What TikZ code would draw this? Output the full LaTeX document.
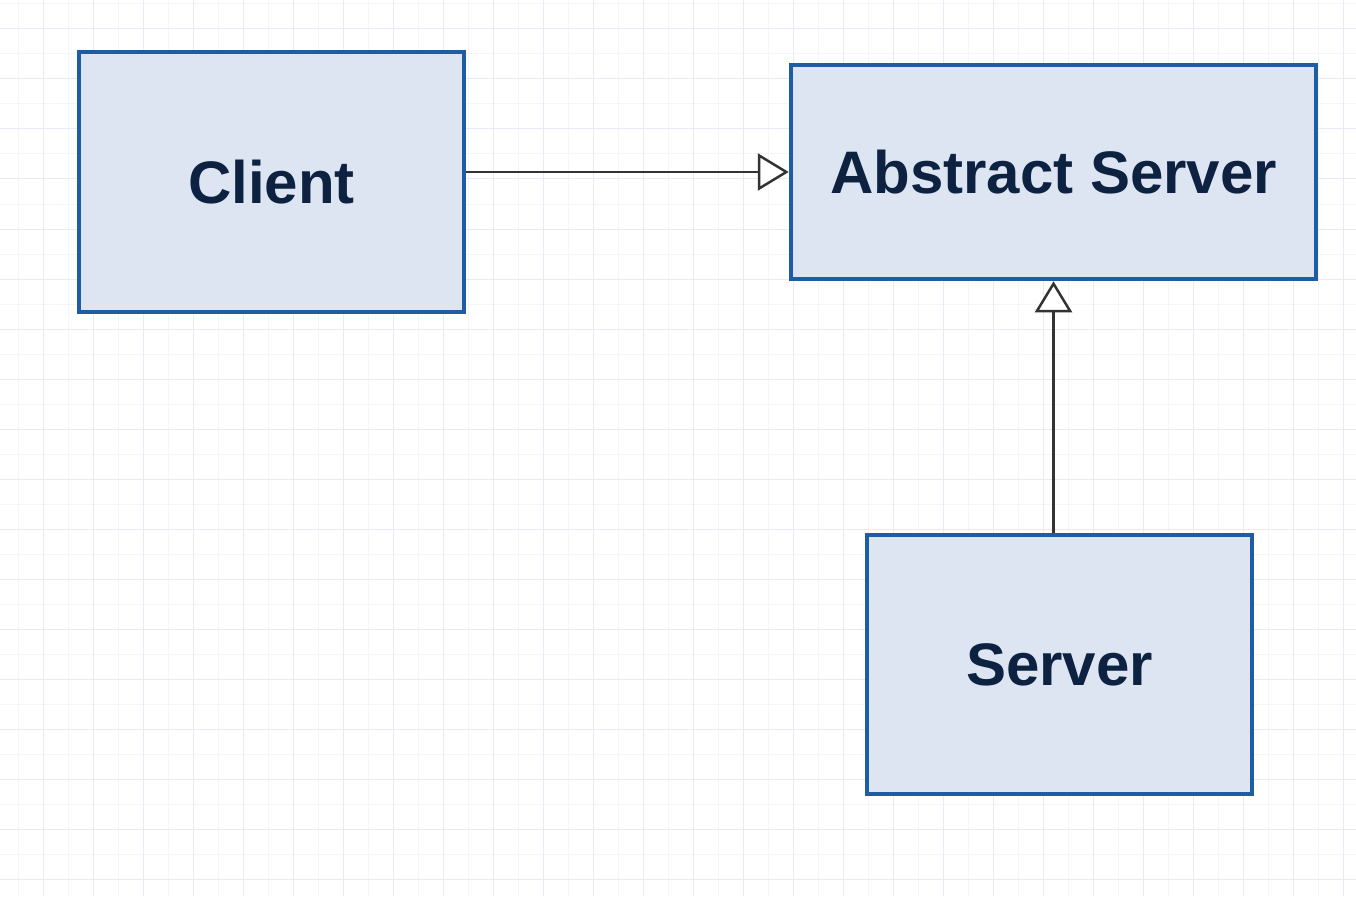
\documentclass[tikz,border=0pt]{standalone}
\usepackage{fontspec}
\setmainfont{Liberation Sans}
\usetikzlibrary{arrows.meta}
\definecolor{boxfill}{HTML}{DEE5F2}
\definecolor{boxline}{HTML}{1E5CA4}
\definecolor{txt}{HTML}{0C2240}
\definecolor{conn}{HTML}{333333}
\definecolor{gridmajor}{HTML}{EBE9F6}
\definecolor{gridminor}{HTML}{F5F5FA}
\tikzset{
  umlbox/.style={draw=boxline, fill=boxfill, line width=4.5pt, rectangle,
    text=txt, font=\fontsize{60}{72}\selectfont\bfseries, inner sep=0pt},
  inherit/.style={draw=conn, line width=2.5pt,
    -{Triangle[length=31pt, width=37pt, fill=white, line width=2.5pt]}},
}
\begin{document}
\begin{tikzpicture}[x=1pt, y=-1pt]
\useasboundingbox (0,0) rectangle (1356,896);
\fill[white] (0,0) rectangle (1356,896);
% minor grid
\foreach \gx in {18,68,...,1356} \draw[gridminor, line width=1pt] (\gx,0) -- (\gx,896);
\foreach \gy in {4,54,...,896} \draw[gridminor, line width=1pt] (0,\gy) -- (1356,\gy);
% major grid
\foreach \gx in {43,93,...,1356} \draw[gridmajor, line width=1pt] (\gx,0) -- (\gx,896);
\foreach \gy in {29,79,...,896} \draw[gridmajor, line width=1pt] (0,\gy) -- (1356,\gy);
% boxes
\node[umlbox, minimum width=385pt, minimum height=260pt] (client) at (271.5,182) {Client};
\node[umlbox, minimum width=525pt, minimum height=214pt] (abstract) at (1053.5,172) {Abstract Server};
\node[umlbox, minimum width=385pt, minimum height=259pt] (server) at (1059.5,664.5) {Server};
% connectors
\draw[inherit] (client.east |- abstract.west) -- (abstract.west);
\draw[inherit] (abstract.south |- server.north) -- (abstract.south);
\end{tikzpicture}
\end{document}
